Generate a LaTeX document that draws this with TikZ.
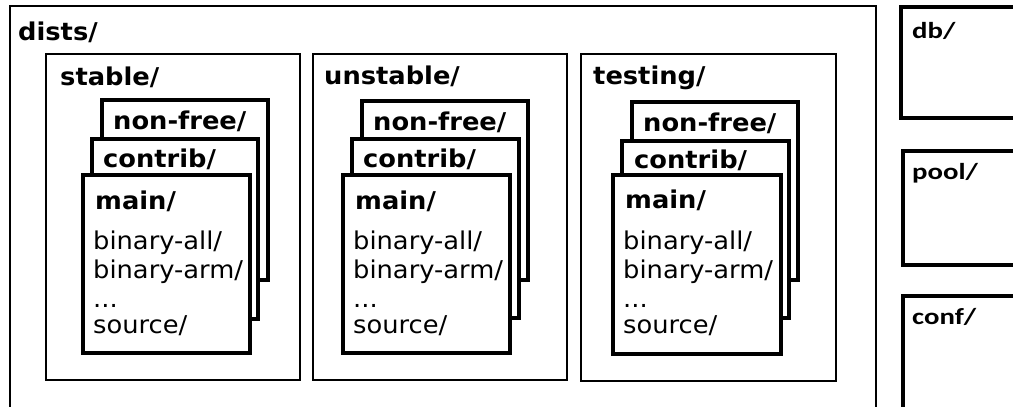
\documentclass[tikz,border=0pt]{standalone}
\usepackage{fontspec}
\newfontfamily\dirfont{DejaVu Sans}[FakeStretch=1.05]
\newfontfamily\calfont{Carlito}[FakeStretch=1.25]

\begin{document}
\begin{tikzpicture}[x=1pt,y=-1pt,
  distbox/.style={draw, line width=2.4pt},
  compbox/.style={draw, fill=white, line width=3.2pt},
  sidebox/.style={draw, line width=3.2pt},
  dirlabel/.style={anchor=base west, inner sep=0pt, font=\dirfont\bfseries\fontsize{24.5}{28}\selectfont},
  fileline/.style={anchor=base west, inner sep=0pt, font=\dirfont\fontsize{24.5}{28}\selectfont},
  sidelabel/.style={anchor=base west, inner sep=0pt, font=\calfont\bfseries\fontsize{23}{27}\selectfont}]
  \path[use as bounding box, clip] (0,0) rectangle (1013,407);

  % dists
  \draw[distbox, line width=2.8pt] (10,6) rectangle (876,440);
  \node[dirlabel] (dists) at (18,40) {dists/};

  % stable
  \draw[distbox] (46,54) rectangle (300,380);
  \node[dirlabel] (stable) at (60,85) {stable/};
  \draw[compbox] (102,100) rectangle (268,280);
  \node[dirlabel] (stablenonfree) at (113,129) {non-free/};
  \draw[compbox] (92,139) rectangle (258,319);
  \node[dirlabel] (stablecontrib) at (103,167) {contrib/};
  \draw[compbox] (83,175) rectangle (250,353);
  \node[dirlabel] (stablemain) at (95,209) {main/};
  \node[fileline] (stableall) at (93,249) {binary-all/};
  \node[fileline] (stablearm) at (93,278) {binary-arm/};
  \node[fileline] (stabledots) at (93,307) {...};
  \node[fileline] (stablesrc) at (93,333) {source/};

  % unstable
  \draw[distbox] (313,54) rectangle (567,380);
  \node[dirlabel] (unstable) at (324,84) {unstable/};
  \draw[compbox] (362,101) rectangle (528,280);
  \node[dirlabel] (unstablenonfree) at (373,130) {non-free/};
  \draw[compbox] (352,139) rectangle (519,318);
  \node[dirlabel] (unstablecontrib) at (363,167) {contrib/};
  \draw[compbox] (343,175) rectangle (510,353);
  \node[dirlabel] (unstablemain) at (355,209) {main/};
  \node[fileline] (unstableall) at (353,249) {binary-all/};
  \node[fileline] (unstablearm) at (353,278) {binary-arm/};
  \node[fileline] (unstabledots) at (353,307) {...};
  \node[fileline] (unstablesrc) at (353,333) {source/};

  % testing
  \draw[distbox] (581,54) rectangle (836,381);
  \node[dirlabel] (testing) at (593,84) {testing/};
  \draw[compbox] (632,102) rectangle (798,280);
  \node[dirlabel] (testingnonfree) at (643,131) {non-free/};
  \draw[compbox] (622,141) rectangle (789,318);
  \node[dirlabel] (testingcontrib) at (634,168) {contrib/};
  \draw[compbox] (613,175) rectangle (781,354);
  \node[dirlabel] (testingmain) at (625,208) {main/};
  \node[fileline] (testingall) at (623,249) {binary-all/};
  \node[fileline] (testingarm) at (623,278) {binary-arm/};
  \node[fileline] (testingdots) at (623,307) {...};
  \node[fileline] (testingsrc) at (623,333) {source/};

  % db, pool, conf
  \draw[sidebox] (901,7) rectangle (1030,118);
  \node[sidelabel] (db) at (912,38) {db/};
  \draw[sidebox] (903,151) rectangle (1030,265);
  \node[sidelabel] (pool) at (912,179) {pool/};
  \draw[sidebox] (903,296) rectangle (1030,440);
  \node[sidelabel] (conf) at (912,324) {conf/};
\end{tikzpicture}
\end{document}
